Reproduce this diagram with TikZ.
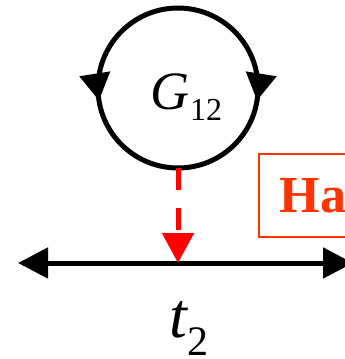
\documentclass[tikz,border=0pt]{standalone}
\usepackage{fontspec}
\setmainfont{Liberation Serif}
\usetikzlibrary{arrows.meta,positioning,decorations.markings}

\definecolor{hared}{RGB}{255,51,0}

\tikzset{
  thickline/.style={line width=5pt,black},
  looparrow/.style={postaction=decorate,decoration={markings,
      mark=at position 0.55 with {\arrow{Triangle[length=27pt,width=30pt]}}}},
  bigtip/.style={Triangle[length=30pt,width=31pt]}
}

\begin{document}
\begin{tikzpicture}[x=1pt,y=-1pt]
\useasboundingbox (0,0) rectangle (345,359);
\clip (0,0) rectangle (345,359);

% loop with label
\coordinate (c) at (178,88);
\draw[thickline,looparrow] (178,8) arc[start angle=-90,end angle=-270,radius=80];
\draw[thickline,looparrow] (178,8) arc[start angle=-90,end angle=90,radius=80];
\node[anchor=base west,inner sep=0pt] (g12) at (150,109)
  {\fontsize{54}{54}\selectfont\itshape G\upshape\kern1pt\raisebox{-11pt}{\fontsize{32}{32}\selectfont 12}};
\coordinate (bot) at (178,168);

% time axis
\coordinate (tl) at (18,263);
\coordinate (tr) at (353,263);
\coordinate (hit) at (178,263);
\draw[thickline,{Triangle[length=30pt,width=30pt]}-{Triangle[length=30pt,width=30pt]}] (tl) -- (tr);
\node[anchor=base west,inner sep=0pt] (t2) at (169,337)
  {\fontsize{64}{64}\selectfont\itshape t\upshape\kern1pt\raisebox{-18pt}[\height][0pt]{\fontsize{42}{42}\selectfont 2}};

% dashed red arrow
\draw[line width=5pt,red,dash pattern=on 22pt off 18pt,-{Triangle[length=30pt,width=31pt]}] (bot) -- (hit);

% label box
\node[draw=hared,line width=1.5pt,text=hared,font=\fontsize{52}{52}\selectfont\bfseries,
  anchor=north west,minimum height=83pt,inner sep=0pt,text width=120pt,align=left] (ha) at (258,153)
  {\hspace*{21pt}Ha};
\end{tikzpicture}
\end{document}
